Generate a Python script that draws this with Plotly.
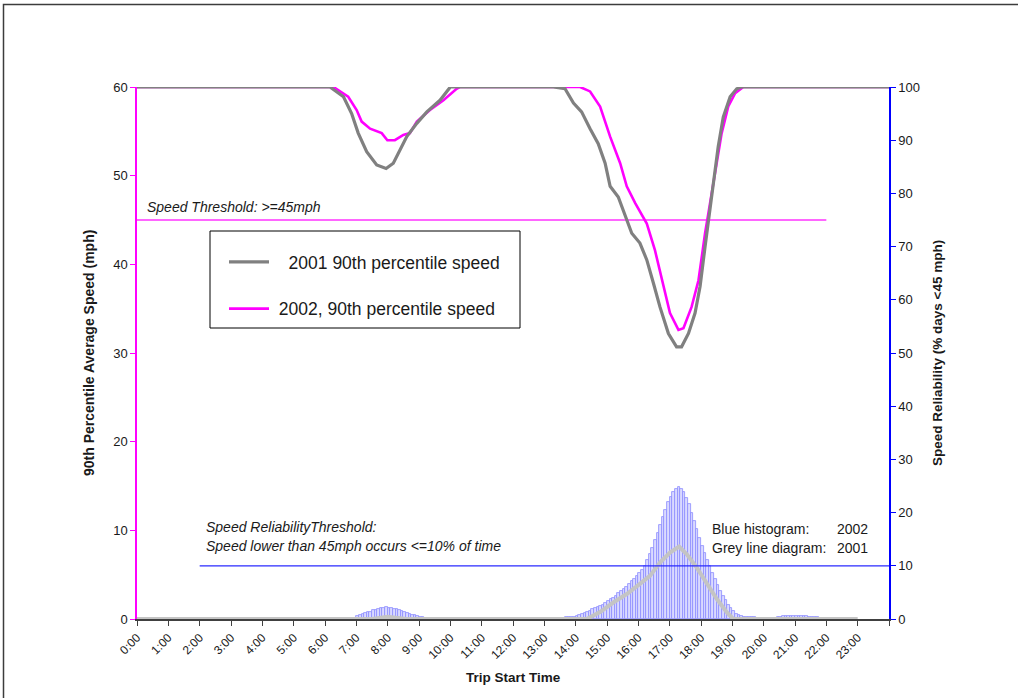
import plotly.graph_objects as go

# ---------------- data ----------------
hour_labels = ["0:00", "1:00", "2:00", "3:00", "4:00", "5:00", "6:00", "7:00", "8:00",
               "9:00", "10:00", "11:00", "12:00", "13:00", "14:00", "15:00", "16:00",
               "17:00", "18:00", "19:00", "20:00", "21:00", "22:00", "23:00", ""]

# 90th percentile speed (mph), breakpoints (hours of day)
t2001 = [0, 6.16, 6.59, 6.85, 7.06, 7.33, 7.65, 7.95, 8.18, 8.39, 8.61, 8.93, 9.25, 9.67, 10.0,
         13.29, 13.66, 13.93, 14.19, 14.46, 14.72, 14.94, 15.10, 15.36, 15.58, 15.79, 16.05,
         16.27, 16.48, 16.69, 16.96, 17.22, 17.38, 17.6, 17.81, 17.97, 18.13, 18.24, 18.39,
         18.55, 18.71, 18.93, 19.14, 19.3, 24]
s2001 = [60, 60, 58.9, 57.0, 54.8, 52.7, 51.2, 50.8, 51.4, 52.9, 54.4, 55.9, 57.2, 58.5, 60,
         60, 59.8, 58.2, 57.2, 55.3, 53.6, 51.4, 48.8, 47.6, 45.4, 43.5, 42.4,
         40.5, 37.9, 35.2, 32.2, 30.7, 30.7, 32.2, 34.5, 37.5, 42.0, 45.0, 48.8,
         53.3, 56.6, 58.9, 59.8, 60, 60]

t2002 = [0, 6.27, 6.74, 7.01, 7.17, 7.44, 7.81, 7.99, 8.23, 8.50, 8.71, 8.93, 9.35, 9.78, 10.2,
         10.3, 14.14, 14.46, 14.78, 15.10, 15.42, 15.63, 15.9, 16.27, 16.53, 16.75, 17.01,
         17.28, 17.44, 17.70, 17.92, 18.13, 18.29, 18.45, 18.66, 18.87, 19.09, 19.35, 24]
s2002 = [60, 60, 58.9, 57.4, 56.1, 55.3, 54.8, 54.0, 54.0, 54.6, 54.8, 56.1, 57.4, 58.5, 59.8,
         60, 60, 59.5, 57.8, 54.4, 51.4, 48.8, 46.9, 44.6, 41.6, 38.2, 34.5,
         32.6, 32.8, 35.2, 38.2, 43.5, 46.9, 50.6, 54.8, 57.8, 59.3, 60, 60]

# speed reliability (% days < 45 mph), 2001 line diagram
tr2001 = [0, 7.5, 8.0, 8.6, 14.35, 14.78, 15.2, 15.63, 16.05, 16.37, 16.69, 17.01, 17.3,
          17.54, 17.86, 18.18, 18.5, 18.82, 19.03, 23]
r2001 = [0, 0, 0.4, 0, 0, 1.3, 3.1, 4.7, 6.6, 8.1, 10.6, 12.5, 13.6,
         12.2, 9.7, 6.6, 3.8, 1.3, 0, 0]

# speed reliability 2002 histogram, 5-minute bins
bin_minutes = 5
am_start_hour = 7.0
am_rel2002 = [0.5, 0.7, 0.9, 1.1, 1.3, 1.4, 1.6, 1.7, 1.9, 2.0, 2.1, 2.2, 2.1,
              2.0, 1.9, 1.8, 1.6, 1.5, 1.3, 1.1, 1.0, 0.8, 0.7, 0.5, 0.4, 0.3]
pm_start_hour = 13.5
pm_rel2002 = [0.2, 0.2, 0.3, 0.3, 0.4, 0.4, 0.5, 0.7, 0.9, 1.1, 1.3, 1.5, 1.8, 2.0, 2.2, 2.4,
              2.7, 3.0, 3.3, 3.7, 4.0, 4.4, 4.8, 5.2, 5.7, 6.1, 6.6, 7.1, 7.6, 8.1, 8.7, 9.2,
              10.0, 11.0, 12.2, 13.4, 14.8, 16.2, 17.7, 19.1, 20.5, 21.9, 23.0, 23.9, 24.5,
              24.8, 24.5, 23.8, 22.8, 21.6, 20.0, 18.5, 16.9, 15.3, 13.8, 12.4, 11.1, 9.9,
              8.7, 7.5, 6.4, 5.3, 4.3, 3.5, 2.7, 2.0, 1.5, 1.0, 0.7, 0.5, 0.4, 0.4, 0.3, 0.3,
              0.3, 0.2, 0.2, 0.2, 0.1, 0.1, 0.1, 0.2, 0.2, 0.3, 0.4, 0.5, 0.5, 0.5, 0.6, 0.6,
              0.6, 0.6, 0.5, 0.5, 0.5, 0.4, 0.4, 0.3, 0.3, 0.2, 0.2, 0.1]

speed_threshold = 45          # mph
speed_threshold_end = 22.0    # hours
reliability_threshold = 10    # %
reliability_threshold_start = 2.0

# ---------------- figure ----------------
W, H = 1018, 698
ML, MR, MT, MB = 137, 129, 87, 79
PW, PH = W - ML - MR, H - MT - MB

def px_x(p):
    return (p - ML) / PW

def px_y(p):
    return (H - MB - p) / PH

bw = bin_minutes / 60.0
hist_x = [am_start_hour + i * bw + bw / 2 for i in range(len(am_rel2002))] + \
         [pm_start_hour + i * bw + bw / 2 for i in range(len(pm_rel2002))]
hist_y = am_rel2002 + pm_rel2002

FONT = "Liberation Sans, Arial, sans-serif"
TXT = "#1a1a1a"

fig = go.Figure()

# speed threshold (left axis)
fig.add_trace(go.Scatter(x=[0, speed_threshold_end], y=[speed_threshold, speed_threshold],
                         mode="lines", line=dict(color="#ff33ff", width=1.3),
                         showlegend=False, hoverinfo="skip"))
fig.add_trace(go.Scatter(x=t2002, y=s2002, mode="lines", name="\u00a02002, 90th percentile speed",
                         line=dict(color="#ff00ff", width=2.6), legendgroup="b", legendrank=2))
fig.add_trace(go.Scatter(x=t2001, y=s2001, mode="lines", name="\u00a0\u00a0\u00a02001 90th percentile speed",
                         line=dict(color="#808080", width=3.2), legendgroup="a", legendrank=1))

# reliability (right axis)
fig.add_trace(go.Bar(x=hist_x, y=hist_y, width=bw, yaxis="y2",
                     marker=dict(color="#dadaff", line=dict(color="#8c8cff", width=0.8)),
                     showlegend=False, hoverinfo="skip"))
fig.add_trace(go.Scatter(x=tr2001, y=r2001, yaxis="y2", mode="lines",
                         line=dict(color="#c4c4c4", width=4), showlegend=False))
fig.add_trace(go.Scatter(x=[reliability_threshold_start, 24],
                         y=[reliability_threshold, reliability_threshold], yaxis="y2",
                         mode="lines", line=dict(color="#2a2aff", width=1.2),
                         showlegend=False, hoverinfo="skip"))

annos = [
    dict(x=0.25, y=46.5, xref="x", yref="y", text="<i>Speed Threshold: >=45mph</i>",
         showarrow=False, xanchor="left", yanchor="middle", font=dict(size=14, color=TXT)),
    dict(x=2.15, y=17.3, xref="x", yref="y2", text="<i>Speed ReliabilityThreshold:</i>",
         showarrow=False, xanchor="left", yanchor="middle", font=dict(size=14, color=TXT)),
    dict(x=2.15, y=13.7, xref="x", yref="y2", text="<i>Speed lower than 45mph occurs <=10% of time</i>",
         showarrow=False, xanchor="left", yanchor="middle", font=dict(size=14, color=TXT)),
    dict(x=18.3, y=17.0, xref="x", yref="y2", text="Blue histogram:",
         showarrow=False, xanchor="left", yanchor="middle", font=dict(size=14, color=TXT)),
    dict(x=23.4, y=17.0, xref="x", yref="y2", text="2002",
         showarrow=False, xanchor="right", yanchor="middle", font=dict(size=14, color=TXT)),
    dict(x=18.3, y=13.4, xref="x", yref="y2", text="Grey line diagram:",
         showarrow=False, xanchor="left", yanchor="middle", font=dict(size=14, color=TXT)),
    dict(x=23.4, y=13.4, xref="x", yref="y2", text="2001",
         showarrow=False, xanchor="right", yanchor="middle", font=dict(size=14, color=TXT)),
    # axis titles
    dict(x=0.5, y=px_y(677), xref="paper", yref="paper", text="<b>Trip Start Time</b>",
         showarrow=False, xanchor="center", yanchor="middle", font=dict(size=13.5, color=TXT)),
    dict(x=px_x(89), y=0.5, xref="paper", yref="paper",
         text="<b>90th Percentile Average Speed (mph)</b>", textangle=-90,
         showarrow=False, xanchor="center", yanchor="middle", font=dict(size=14, color=TXT)),
    dict(x=px_x(937), y=0.5, xref="paper", yref="paper",
         text="<b>Speed Reliability (% days <45 mph)</b>", textangle=-90,
         showarrow=False, xanchor="center", yanchor="middle", font=dict(size=13.5, color=TXT)),
]

shapes = [
    # outer chart border
    dict(type="rect", xref="paper", yref="paper", x0=px_x(3.5), x1=px_x(1040),
         y0=px_y(720), y1=px_y(4.5), line=dict(color="#3c3c3c", width=1.5)),
    # legend frame
    dict(type="rect", xref="paper", yref="paper", x0=px_x(210), x1=px_x(520),
         y0=px_y(328), y1=px_y(231), line=dict(color="#000000", width=1)),
]

fig.update_layout(
    width=W, height=H,
    margin=dict(l=ML, r=MR, t=MT, b=MB, pad=0),
    paper_bgcolor="white", plot_bgcolor="white",
    font=dict(family=FONT, size=12, color=TXT),
    bargap=0,
    showlegend=True,
    legend=dict(x=px_x(224), y=px_y(244), xanchor="left", yanchor="top",
                bgcolor="rgba(0,0,0,0)", borderwidth=0, font=dict(size=17.5, color=TXT),
                tracegroupgap=21, itemwidth=40, traceorder="grouped"),
    xaxis=dict(range=[0, 24], tickmode="array", tickvals=list(range(25)), ticktext=hour_labels,
               tickangle=-45, tickfont=dict(size=12), showline=True, linecolor="#404040",
               linewidth=2, ticks="outside", ticklen=5, tickcolor="#404040", showgrid=False,
               zeroline=False, automargin=False),
    yaxis=dict(range=[0, 60], dtick=10, showline=True, linecolor="#ff00ff", linewidth=1.5,
               ticks="outside", ticklen=5, tickcolor="#ff00ff", showgrid=False, zeroline=False,
               automargin=False, tickfont=dict(size=13)),
    yaxis2=dict(range=[0, 100], dtick=10, overlaying="y", side="right", showline=True,
                linecolor="#0000ff", linewidth=1.5, ticks="outside", ticklen=5,
                tickcolor="#0000ff", showgrid=False, zeroline=False, automargin=False,
                tickfont=dict(size=13)),
    annotations=annos,
    shapes=shapes,
)

fig.write_html("out.html")
